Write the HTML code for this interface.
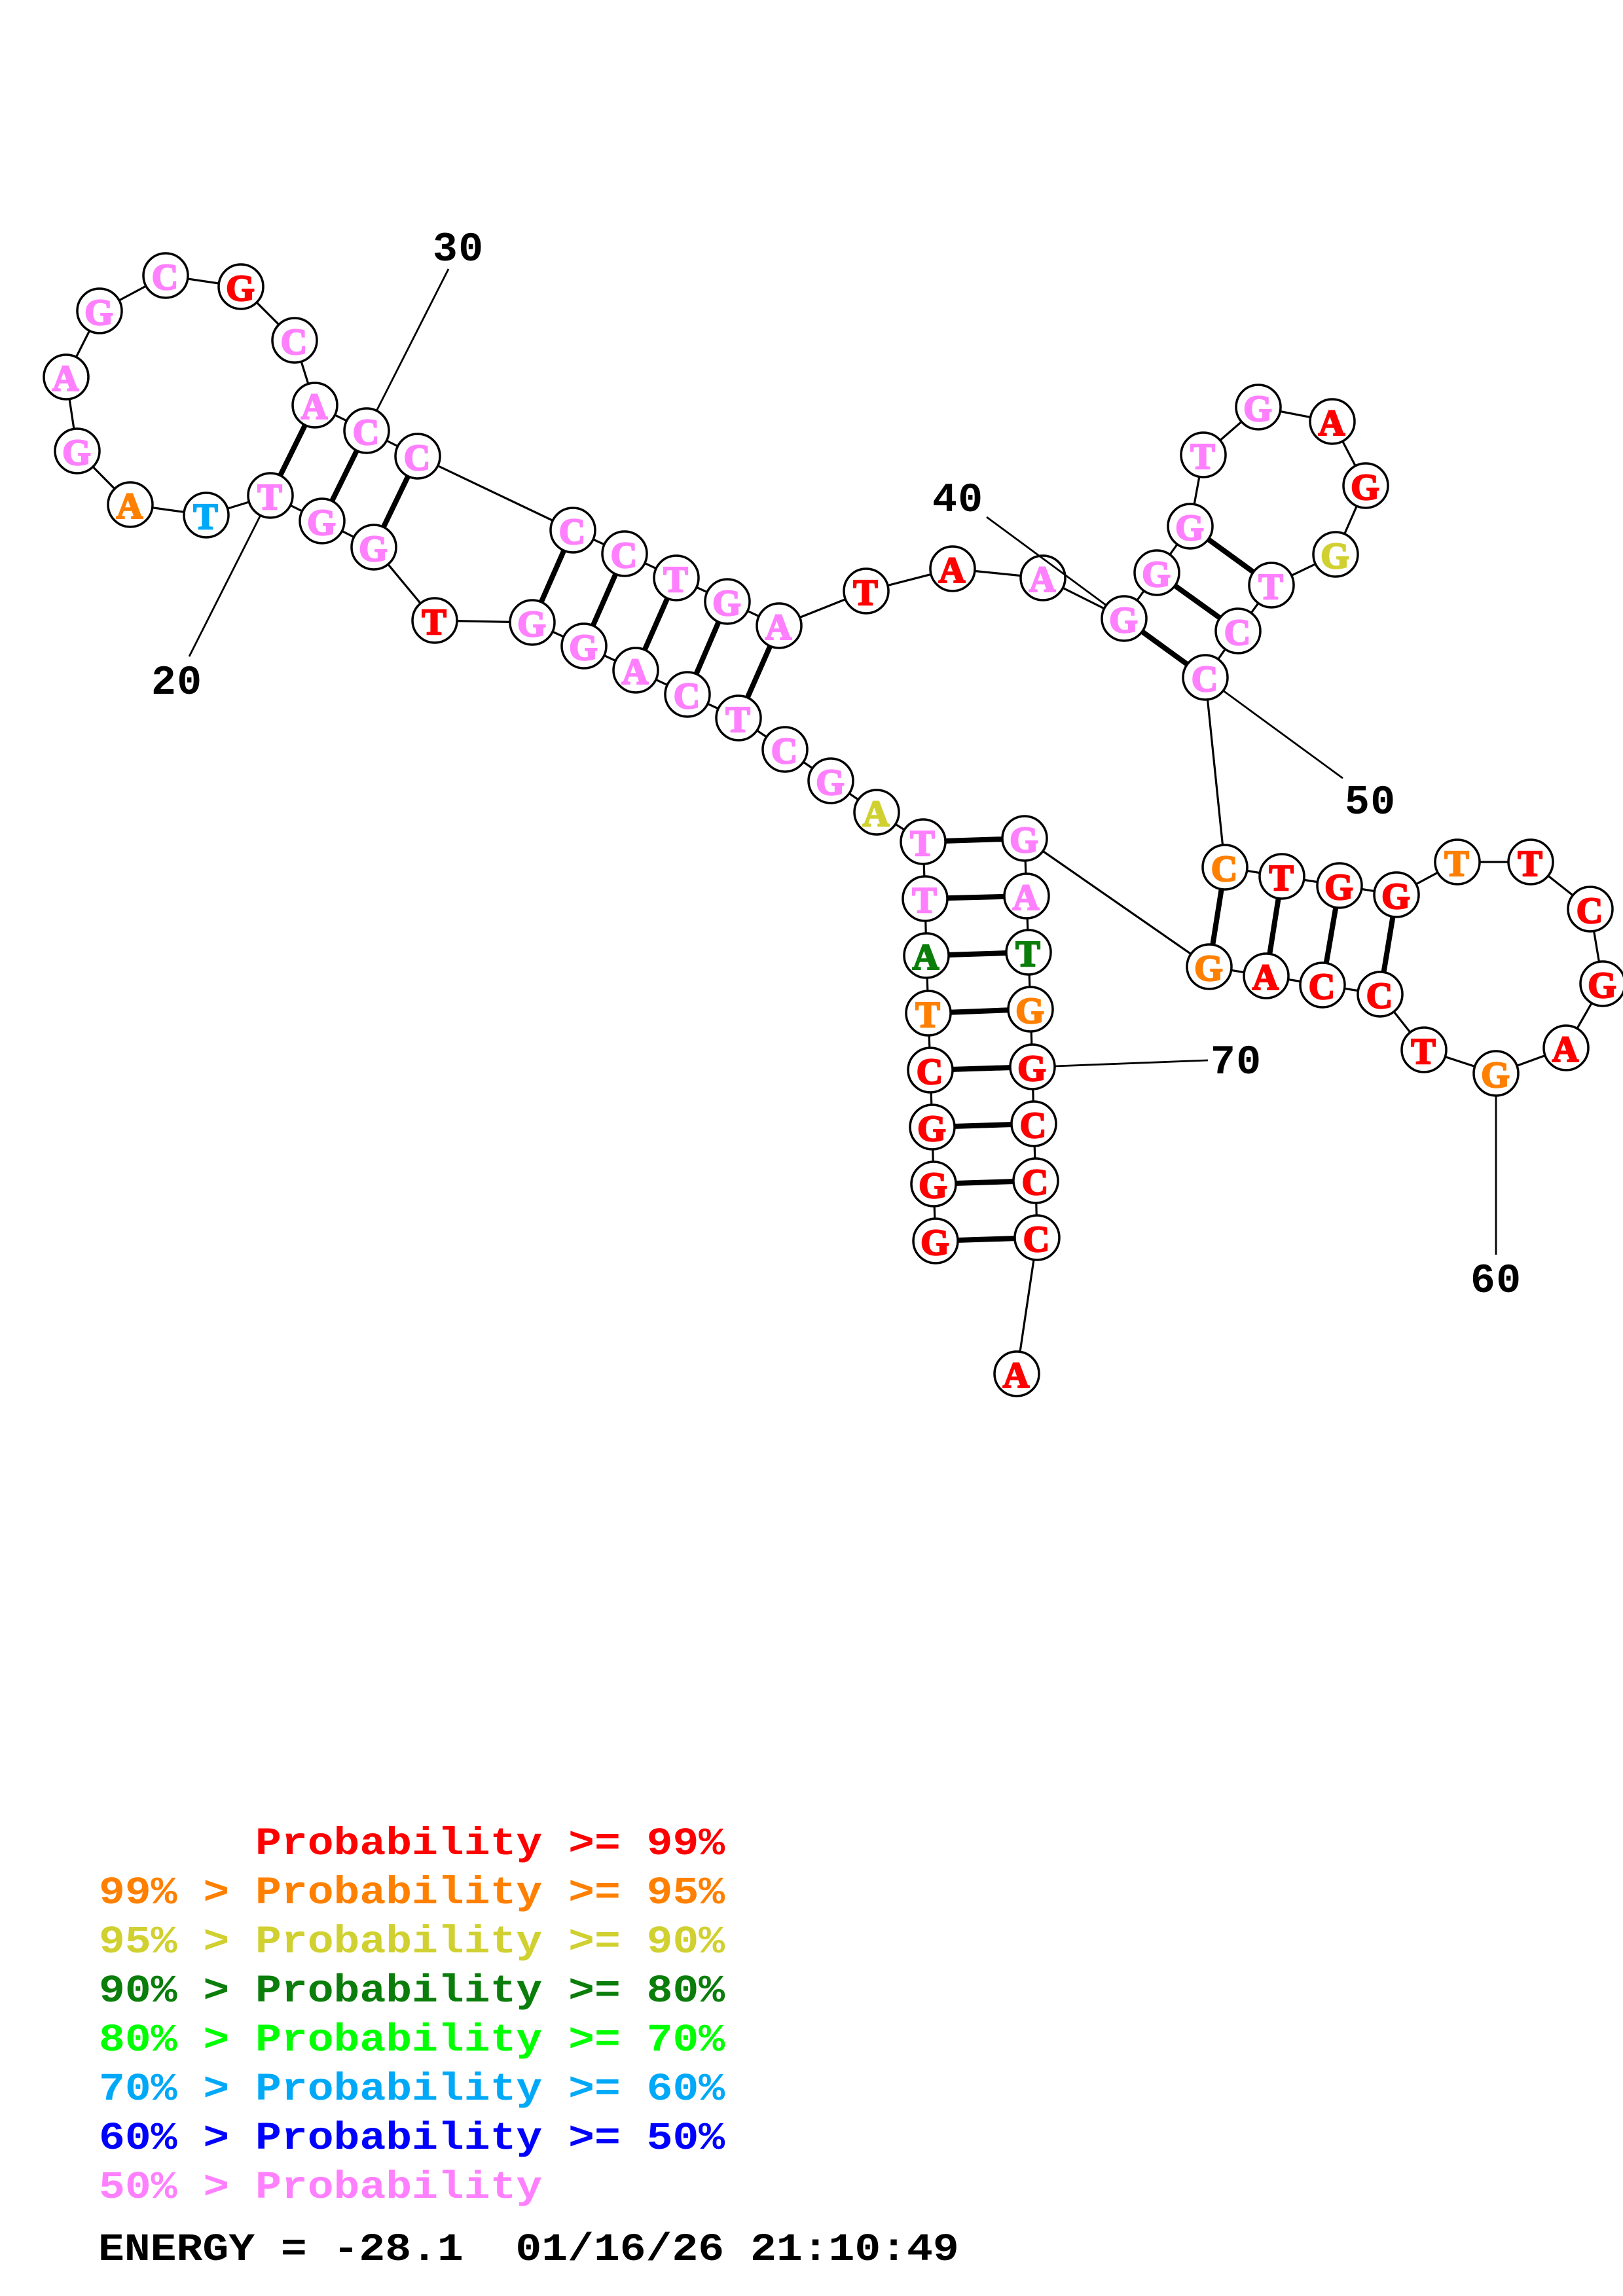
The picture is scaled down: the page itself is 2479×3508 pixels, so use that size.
<!DOCTYPE html>
<html><head><meta charset="utf-8"><style>
html,body{margin:0;padding:0;background:#fff}
svg{display:block}
.n circle{fill:#fff;stroke:#000;stroke-width:3.5}
.l text{font-family:"Liberation Serif",serif;font-weight:bold;font-size:56px;text-anchor:middle;stroke-width:2.5}
.p{fill:#ff80ff;stroke:#ff80ff}.r{fill:#f00;stroke:#f00}.o{fill:#ff8000;stroke:#ff8000}.y{fill:#d0d030;stroke:#d0d030}.d{fill:#0a7d0a;stroke:#0a7d0a}.b{fill:#00a8f8;stroke:#00a8f8}
.lg text{font-family:"Liberation Mono",monospace;font-weight:bold;font-size:66.4px;white-space:pre}
.num text{font-family:"Liberation Mono",monospace;font-weight:bold;font-size:63px;letter-spacing:1.5px}
</style></head><body>
<svg xmlns="http://www.w3.org/2000/svg" width="2479" height="3508" viewBox="0 0 2479 3508">
<rect width="2479" height="3508" fill="#fff"/>
<polyline fill="none" stroke="#000" stroke-width="3.2" points="1429,1896 1426,1809 1424,1722 1421,1635 1418,1548 1415,1460 1413,1373 1410,1286 1339,1241 1269,1193 1199,1145 1128,1097 1050,1061 971,1024 892,987 813,951 664,948 571,836 492,796 413,757 315,787 199,771 118,689 101,576 152,475 253,421 368,438 450,520 481,619 560,658 638,697 875,810 954,846 1033,883 1111,919 1190,956 1323,903 1455,869 1593,883 1717,945 1767,875 1818,804 1838,695 1922,622 2035,644 2086,742 2040,847 1942,894 1891,964 1841,1035 1871,1325 1958,1339 2046,1353 2133,1367 2226,1317 2338,1317 2429,1389 2448,1503 2392,1601 2285,1640 2175,1604 2108,1519 2020,1505 1934,1491 1847,1477 1565,1281 1568,1369 1571,1455 1574,1542 1577,1630 1579,1717 1582,1804 1584,1891 1553,2099"/>
<g stroke="#000" stroke-width="8">
<line x1="1429" y1="1896" x2="1584" y2="1891"/><line x1="1426" y1="1809" x2="1582" y2="1804"/><line x1="1424" y1="1722" x2="1579" y2="1717"/><line x1="1421" y1="1635" x2="1577" y2="1630"/><line x1="1418" y1="1548" x2="1574" y2="1542"/><line x1="1415" y1="1460" x2="1571" y2="1455"/><line x1="1413" y1="1373" x2="1568" y2="1369"/><line x1="1410" y1="1286" x2="1565" y2="1281"/>
<line x1="1128" y1="1097" x2="1190" y2="956"/><line x1="1050" y1="1061" x2="1111" y2="919"/><line x1="971" y1="1024" x2="1033" y2="883"/><line x1="892" y1="987" x2="954" y2="846"/><line x1="813" y1="951" x2="875" y2="810"/>
<line x1="571" y1="836" x2="638" y2="697"/><line x1="492" y1="796" x2="560" y2="658"/><line x1="413" y1="757" x2="481" y2="619"/>
<line x1="1717" y1="945" x2="1841" y2="1035"/><line x1="1767" y1="875" x2="1891" y2="964"/><line x1="1818" y1="804" x2="1942" y2="894"/>
<line x1="1871" y1="1325" x2="1847" y2="1477"/><line x1="1958" y1="1339" x2="1934" y2="1491"/><line x1="2046" y1="1353" x2="2020" y2="1505"/><line x1="2133" y1="1367" x2="2108" y2="1519"/>
</g>
<g class="n">
<circle cx="1429" cy="1896" r="34"/><circle cx="1426" cy="1809" r="34"/><circle cx="1424" cy="1722" r="34"/><circle cx="1421" cy="1635" r="34"/><circle cx="1418" cy="1548" r="34"/><circle cx="1415" cy="1460" r="34"/><circle cx="1413" cy="1373" r="34"/><circle cx="1410" cy="1286" r="34"/><circle cx="1339" cy="1241" r="34"/><circle cx="1269" cy="1193" r="34"/>
<circle cx="1199" cy="1145" r="34"/><circle cx="1128" cy="1097" r="34"/><circle cx="1050" cy="1061" r="34"/><circle cx="971" cy="1024" r="34"/><circle cx="892" cy="987" r="34"/><circle cx="813" cy="951" r="34"/><circle cx="664" cy="948" r="34"/><circle cx="571" cy="836" r="34"/><circle cx="492" cy="796" r="34"/><circle cx="413" cy="757" r="34"/>
<circle cx="315" cy="787" r="34"/><circle cx="199" cy="771" r="34"/><circle cx="118" cy="689" r="34"/><circle cx="101" cy="576" r="34"/><circle cx="152" cy="475" r="34"/><circle cx="253" cy="421" r="34"/><circle cx="368" cy="438" r="34"/><circle cx="450" cy="520" r="34"/><circle cx="481" cy="619" r="34"/><circle cx="560" cy="658" r="34"/>
<circle cx="638" cy="697" r="34"/><circle cx="875" cy="810" r="34"/><circle cx="954" cy="846" r="34"/><circle cx="1033" cy="883" r="34"/><circle cx="1111" cy="919" r="34"/><circle cx="1190" cy="956" r="34"/><circle cx="1323" cy="903" r="34"/><circle cx="1455" cy="869" r="34"/><circle cx="1593" cy="883" r="34"/><circle cx="1717" cy="945" r="34"/>
<circle cx="1767" cy="875" r="34"/><circle cx="1818" cy="804" r="34"/><circle cx="1838" cy="695" r="34"/><circle cx="1922" cy="622" r="34"/><circle cx="2035" cy="644" r="34"/><circle cx="2086" cy="742" r="34"/><circle cx="2040" cy="847" r="34"/><circle cx="1942" cy="894" r="34"/><circle cx="1891" cy="964" r="34"/><circle cx="1841" cy="1035" r="34"/>
<circle cx="1871" cy="1325" r="34"/><circle cx="1958" cy="1339" r="34"/><circle cx="2046" cy="1353" r="34"/><circle cx="2133" cy="1367" r="34"/><circle cx="2226" cy="1317" r="34"/><circle cx="2338" cy="1317" r="34"/><circle cx="2429" cy="1389" r="34"/><circle cx="2448" cy="1503" r="34"/><circle cx="2392" cy="1601" r="34"/><circle cx="2285" cy="1640" r="34"/>
<circle cx="2175" cy="1604" r="34"/><circle cx="2108" cy="1519" r="34"/><circle cx="2020" cy="1505" r="34"/><circle cx="1934" cy="1491" r="34"/><circle cx="1847" cy="1477" r="34"/><circle cx="1565" cy="1281" r="34"/><circle cx="1568" cy="1369" r="34"/><circle cx="1571" cy="1455" r="34"/><circle cx="1574" cy="1542" r="34"/><circle cx="1577" cy="1630" r="34"/>
<circle cx="1579" cy="1717" r="34"/><circle cx="1582" cy="1804" r="34"/><circle cx="1584" cy="1891" r="34"/><circle cx="1553" cy="2099" r="34"/>
</g>
<g class="l">
<text class="r" x="1428" y="1917">G</text><text class="r" x="1425" y="1830">G</text><text class="r" x="1423" y="1743">G</text><text class="r" x="1420" y="1656">C</text><text class="o" x="1417" y="1569">T</text><text class="d" x="1414" y="1481">A</text><text class="p" x="1412" y="1394">T</text><text class="p" x="1409" y="1307">T</text><text class="y" x="1338" y="1262">A</text><text class="p" x="1268" y="1214">G</text>
<text class="p" x="1198" y="1166">C</text><text class="p" x="1127" y="1118">T</text><text class="p" x="1049" y="1082">C</text><text class="p" x="970" y="1045">A</text><text class="p" x="891" y="1008">G</text><text class="p" x="812" y="972">G</text><text class="r" x="663" y="969">T</text><text class="p" x="570" y="857">G</text><text class="p" x="491" y="817">G</text><text class="p" x="412" y="778">T</text>
<text class="b" x="314" y="808">T</text><text class="o" x="198" y="792">A</text><text class="p" x="117" y="710">G</text><text class="p" x="100" y="597">A</text><text class="p" x="151" y="496">G</text><text class="p" x="252" y="442">C</text><text class="r" x="367" y="459">G</text><text class="p" x="449" y="541">C</text><text class="p" x="480" y="640">A</text><text class="p" x="559" y="679">C</text>
<text class="p" x="637" y="718">C</text><text class="p" x="874" y="831">C</text><text class="p" x="953" y="867">C</text><text class="p" x="1032" y="904">T</text><text class="p" x="1110" y="940">G</text><text class="p" x="1189" y="977">A</text><text class="r" x="1322" y="924">T</text><text class="r" x="1454" y="890">A</text><text class="p" x="1592" y="904">A</text><text class="p" x="1716" y="966">G</text>
<text class="p" x="1766" y="896">G</text><text class="p" x="1817" y="825">G</text><text class="p" x="1837" y="716">T</text><text class="p" x="1921" y="643">G</text><text class="r" x="2034" y="665">A</text><text class="r" x="2085" y="763">G</text><text class="y" x="2039" y="868">G</text><text class="p" x="1941" y="915">T</text><text class="p" x="1890" y="985">C</text><text class="p" x="1840" y="1056">C</text>
<text class="o" x="1870" y="1346">C</text><text class="r" x="1957" y="1360">T</text><text class="r" x="2045" y="1374">G</text><text class="r" x="2132" y="1388">G</text><text class="o" x="2225" y="1338">T</text><text class="r" x="2337" y="1338">T</text><text class="r" x="2428" y="1410">C</text><text class="r" x="2447" y="1524">G</text><text class="r" x="2391" y="1622">A</text><text class="o" x="2284" y="1661">G</text>
<text class="r" x="2174" y="1625">T</text><text class="r" x="2107" y="1540">C</text><text class="r" x="2019" y="1526">C</text><text class="r" x="1933" y="1512">A</text><text class="o" x="1846" y="1498">G</text><text class="p" x="1564" y="1302">G</text><text class="p" x="1567" y="1390">A</text><text class="d" x="1570" y="1476">T</text><text class="o" x="1573" y="1563">G</text><text class="r" x="1576" y="1651">G</text>
<text class="r" x="1578" y="1738">C</text><text class="r" x="1581" y="1825">C</text><text class="r" x="1583" y="1912">C</text><text class="r" x="1552" y="2120">A</text>
</g>
<g stroke="#000" stroke-width="2.8">
<line x1="398" y1="787" x2="289" y2="1003"/>
<line x1="575" y1="628" x2="685" y2="411"/>
<line x1="1690" y1="925" x2="1507" y2="790"/>
<line x1="1868" y1="1055" x2="2051" y2="1189"/>
<line x1="2285" y1="1674" x2="2285" y2="1917"/>
<line x1="1611" y1="1629" x2="1845" y2="1620"/>
</g>
<g class="num" fill="#000">
<text x="231" y="1060">20</text>
<text x="661" y="398">30</text>
<text x="1424" y="781">40</text>
<text x="2054" y="1243">50</text>
<text x="2246" y="1974">60</text>
<text x="1849" y="1640">70</text>
</g>
<g class="lg">
<text transform="translate(151,2833) scale(1,.9)" fill="#f00" xml:space="preserve">      Probability &gt;= 99%</text>
<text transform="translate(151,2908) scale(1,.9)" fill="#ff8000" xml:space="preserve">99% &gt; Probability &gt;= 95%</text>
<text transform="translate(151,2983) scale(1,.9)" fill="#d0d030" xml:space="preserve">95% &gt; Probability &gt;= 90%</text>
<text transform="translate(151,3058) scale(1,.9)" fill="#0a7d0a" xml:space="preserve">90% &gt; Probability &gt;= 80%</text>
<text transform="translate(151,3133) scale(1,.9)" fill="#00ff00" xml:space="preserve">80% &gt; Probability &gt;= 70%</text>
<text transform="translate(151,3208) scale(1,.9)" fill="#00a8f8" xml:space="preserve">70% &gt; Probability &gt;= 60%</text>
<text transform="translate(151,3283) scale(1,.9)" fill="#0000ff" xml:space="preserve">60% &gt; Probability &gt;= 50%</text>
<text transform="translate(151,3358) scale(1,.9)" fill="#ff80ff" xml:space="preserve">50% &gt; Probability</text>
<text transform="translate(150,3453) scale(1,.9)" fill="#000" xml:space="preserve">ENERGY = -28.1  01/16/26 21:10:49</text>
</g>
</svg>
</body></html>
